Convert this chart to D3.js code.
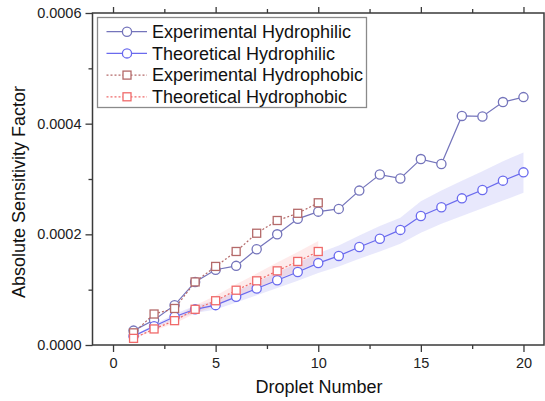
<!DOCTYPE html>
<html>
<head>
<meta charset="utf-8">
<script src="https://cdn.jsdelivr.net/npm/d3@7"></script>
<style>
  body { margin: 0; background: #fff; }
  svg { font-family: "Liberation Sans", Arial, sans-serif; }
</style>
</head>
<body>
<svg id="chart"></svg>
<script>
// droplet numbers
const droplets = d3.range(1, 21)
const dropletsPhobic = d3.range(1, 11)

// values (absolute sensitivity factor)
const expPhilic = [2.6e-5, 4.5e-5, 7.2e-5, 1.14e-4, 1.36e-4, 1.43e-4, 1.73e-4, 2.0e-4, 2.28e-4, 2.41e-4,
  2.46e-4, 2.79e-4, 3.08e-4, 3.01e-4, 3.36e-4, 3.27e-4, 4.14e-4, 4.13e-4, 4.39e-4, 4.48e-4]
const theoPhilic = [1.6e-5, 3.4e-5, 5.1e-5, 6.45e-5, 7.2e-5, 8.7e-5, 1.02e-4, 1.17e-4, 1.32e-4, 1.48e-4,
  1.61e-4, 1.77e-4, 1.92e-4, 2.08e-4, 2.33e-4, 2.49e-4, 2.65e-4, 2.80e-4, 2.97e-4, 3.12e-4]
const theoPhilicUpper = [1.7e-5, 3.7e-5, 5.6e-5, 7.1e-5, 8.0e-5, 9.7e-5, 1.14e-4, 1.31e-4, 1.48e-4, 1.66e-4,
  1.80e-4, 1.98e-4, 2.15e-4, 2.30e-4, 2.60e-4, 2.79e-4, 2.97e-4, 3.14e-4, 3.32e-4, 3.48e-4]
const theoPhilicLower = [1.5e-5, 3.1e-5, 4.6e-5, 5.8e-5, 6.4e-5, 7.7e-5, 9.0e-5, 1.03e-4, 1.16e-4, 1.30e-4,
  1.42e-4, 1.56e-4, 1.69e-4, 1.83e-4, 2.03e-4, 2.19e-4, 2.33e-4, 2.47e-4, 2.61e-4, 2.75e-4]
const expPhobic = [2.2e-5, 5.6e-5, 6.6e-5, 1.14e-4, 1.42e-4, 1.69e-4, 2.02e-4, 2.25e-4, 2.38e-4, 2.57e-4]
const theoPhobic = [1.2e-5, 2.9e-5, 4.4e-5, 6.45e-5, 8.0e-5, 9.9e-5, 1.16e-4, 1.34e-4, 1.51e-4, 1.69e-4]
const theoPhobicUpper = [1.3e-5, 3.2e-5, 4.9e-5, 7.2e-5, 8.9e-5, 1.10e-4, 1.29e-4, 1.49e-4, 1.68e-4, 1.88e-4]
const theoPhobicLower = [1.1e-5, 2.6e-5, 3.9e-5, 5.7e-5, 7.1e-5, 8.8e-5, 1.03e-4, 1.19e-4, 1.34e-4, 1.50e-4]

// ticks
const xTicks = [0, 5, 10, 15, 20]
const xMinor = [2.5, 7.5, 12.5, 17.5]
const yTicks = [0, 0.0002, 0.0004, 0.0006]
const yMinor = [0.0001, 0.0003, 0.0005]

const series = [
  { name: "Experimental Hydrophilic", x: droplets, y: expPhilic, colour: "#7474bb", dash: null, shape: "circle" },
  { name: "Theoretical Hydrophilic", x: droplets, y: theoPhilic, colour: "#6a6aee", dash: null, shape: "circle" },
  { name: "Experimental Hydrophobic", x: dropletsPhobic, y: expPhobic, colour: "#b46a6a", dash: "2,2", shape: "square" },
  { name: "Theoretical Hydrophobic", x: dropletsPhobic, y: theoPhobic, colour: "#f06a6a", dash: "2,2", shape: "square" }
]

const W = 545, H = 401
const margin = { top: 13, right: 1, bottom: 56, left: 92.5 }
const w = W - margin.left - margin.right
const h = H - margin.top - margin.bottom
const axisColour = "#3a3a3a"

const svg = d3.select("#chart").attr("width", W).attr("height", H)
const g = svg.append("g").attr("transform", "translate(" + margin.left + "," + margin.top + ")")

const xScale = d3.scaleLinear().domain([-1, 21]).range([0, w])
const yScale = d3.scaleLinear().domain([0, 0.0006]).range([h, 0])

// bands
const band = (xs, lo, hi) => d3.area()
  .x((d, i) => xScale(xs[i]))
  .y0((d, i) => yScale(lo[i]))
  .y1((d, i) => yScale(hi[i]))(xs)

g.append("path").attr("d", band(droplets, theoPhilicLower, theoPhilicUpper))
  .attr("fill", "rgb(110,110,235)").attr("fill-opacity", 0.16)
g.append("path").attr("d", band(dropletsPhobic, theoPhobicLower, theoPhobicUpper))
  .attr("fill", "rgb(245,110,110)").attr("fill-opacity", 0.14)

// lines + markers
const line = d3.line()
series.forEach(s => {
  const pts = s.x.map((d, i) => [xScale(d), yScale(s.y[i])])
  g.append("path").attr("d", line(pts))
    .attr("fill", "none").attr("stroke", s.colour).attr("stroke-width", 1.2)
    .attr("stroke-dasharray", s.dash)
  pts.forEach(p => drawMarker(g, s, p[0], p[1]))
})

function drawMarker(sel, s, x, y) {
  if (s.shape === "circle") {
    sel.append("circle").attr("cx", x).attr("cy", y).attr("r", 4.6)
      .attr("fill", "#fff").attr("stroke", s.colour).attr("stroke-width", 1.3)
  } else {
    sel.append("rect").attr("x", x - 4).attr("y", y - 4).attr("width", 8).attr("height", 8)
      .attr("fill", "#fff").attr("stroke", s.colour).attr("stroke-width", 1.3)
  }
}

// axes
const styleAxis = sel => {
  sel.select(".domain").remove()
  sel.selectAll("line").attr("stroke", axisColour).attr("stroke-width", 1.3)
  sel.selectAll("text").attr("fill", "#222").style("font-size", "14.5px")
}

g.append("g").attr("transform", "translate(0," + h + ")")
  .call(d3.axisBottom(xScale).tickValues(xTicks).tickSize(7).tickPadding(6))
  .call(styleAxis)
g.append("g").attr("transform", "translate(0," + h + ")")
  .call(d3.axisBottom(xScale).tickValues(xMinor).tickSize(4).tickFormat(""))
  .call(styleAxis)
g.append("g")
  .call(d3.axisTop(xScale).tickValues(xTicks).tickSize(6).tickFormat(""))
  .call(styleAxis)
g.append("g")
  .call(d3.axisTop(xScale).tickValues(xMinor).tickSize(4).tickFormat(""))
  .call(styleAxis)

g.append("g")
  .call(d3.axisLeft(yScale).tickValues(yTicks).tickSize(7).tickPadding(4).tickFormat(d3.format(".4f")))
  .call(styleAxis)
g.append("g")
  .call(d3.axisLeft(yScale).tickValues(yMinor).tickSize(4).tickFormat(""))
  .call(styleAxis)

// frame
g.append("rect").attr("width", w).attr("height", h)
  .attr("fill", "none").attr("stroke", axisColour).attr("stroke-width", 1.5)

// axis titles
svg.append("text").attr("x", 319).attr("y", 393)
  .attr("text-anchor", "middle").style("font-size", "18px").attr("fill", "#111")
  .text("Droplet Number")
svg.append("text").attr("transform", "translate(25,192) rotate(-90)")
  .attr("text-anchor", "middle").style("font-size", "18px").attr("fill", "#111")
  .text("Absolute Sensitivity Factor")

// legend
const legend = svg.append("g")
legend.append("rect").attr("x", 97.5).attr("y", 17.5).attr("width", 269).attr("height", 90)
  .attr("fill", "#fff").attr("stroke", "#8a8a8a").attr("stroke-width", 1.3)
series.forEach((s, i) => {
  const cy = 31.7 + i * 21.7
  legend.append("line").attr("x1", 106.5).attr("x2", 147).attr("y1", cy).attr("y2", cy)
    .attr("stroke", s.colour).attr("stroke-width", 1.2).attr("stroke-dasharray", s.dash)
  drawMarker(legend, s, 127, cy)
  legend.append("text").attr("x", 152).attr("y", cy + 6.3)
    .style("font-size", "18px").attr("fill", "#111").text(s.name)
})
</script>
</body>
</html>
